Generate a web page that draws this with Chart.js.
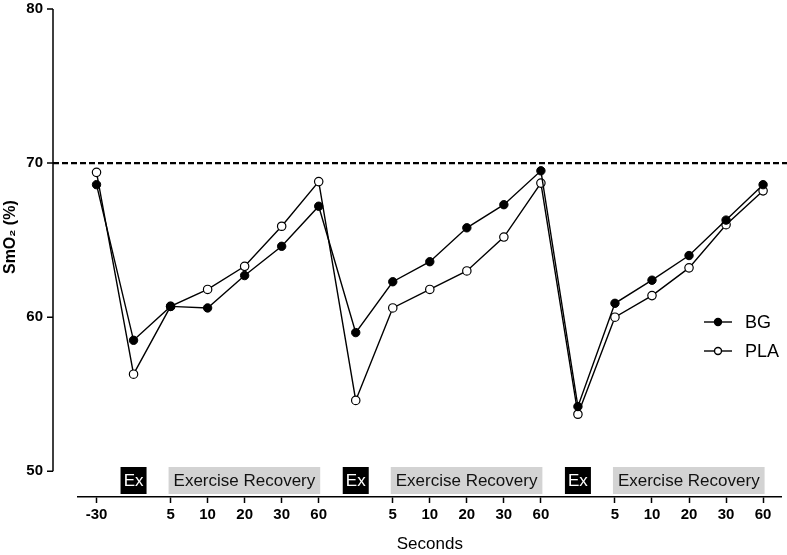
<!DOCTYPE html>
<html>
<head>
<meta charset="utf-8">
<script src="https://cdn.jsdelivr.net/npm/chart.js@4/dist/chart.umd.min.js"></script>
<style>
  html, body { margin: 0; padding: 0; background: #fff; }
  #wrap { width: 787px; height: 555px; position: relative; }
</style>
</head>
<body>
<div id="wrap"><canvas id="smo2Chart"></canvas></div>
<script>
// x categories: '' marks the exercise bouts (no tick mark there)
const timeLabels = ['-30', '', '5', '10', '20', '30', '60', '', '5', '10', '20', '30', '60', '', '5', '10', '20', '30', '60'];
const bgValues  = [68.6, 58.5, 60.7, 60.6, 62.7, 64.6, 67.2, 59.0, 62.3, 63.6, 65.8, 67.3, 69.5, 54.2, 60.9, 62.4, 64.0, 66.3, 68.6];
const plaValues = [69.4, 56.3, 60.7, 61.8, 63.3, 65.9, 68.8, 54.6, 60.6, 61.8, 63.0, 65.2, 68.7, 53.7, 60.0, 61.4, 63.2, 66.0, 68.2];
const yTickValues = [50, 60, 70, 80];
const refLine = 70;
// annotation boxes below the data
const exBouts = [1, 7, 13];
const recoveries = [[2, 6], [8, 12], [14, 18]];

const FONT = "'Liberation Sans', Arial, sans-serif";

// axis lines, reference line, Ex / recovery boxes, legend, y title
const decorations = {
    id: 'decorations',
    beforeDatasetsDraw(chart) {
        const { ctx, scales: { x, y }, chartArea } = chart;
        const axisX = chartArea.left - 25;
        ctx.save();
        // y axis line that stops at 50
        ctx.strokeStyle = '#000';
        ctx.lineWidth = 1.5;
        ctx.beginPath();
        ctx.moveTo(axisX, y.getPixelForValue(80));
        ctx.lineTo(axisX, y.getPixelForValue(50));
        yTickValues.forEach(v => {
            const py = y.getPixelForValue(v);
            ctx.moveTo(axisX - 6, py);
            ctx.lineTo(axisX, py);
        });
        ctx.stroke();

        // dashed line at 70
        ctx.setLineDash([6, 3]);
        ctx.lineWidth = 2.4;
        ctx.beginPath();
        const ry = y.getPixelForValue(refLine);
        ctx.moveTo(axisX, ry);
        ctx.lineTo(chart.width, ry);
        ctx.stroke();
        ctx.setLineDash([]);

        // boxes
        const top = chartArea.bottom - 30, h = 27;
        ctx.textAlign = 'center';
        ctx.textBaseline = 'middle';
        exBouts.forEach(i => {
            const cx = x.getPixelForValue(i);
            ctx.fillStyle = '#000';
            ctx.fillRect(cx - 13, top, 26, h);
            ctx.fillStyle = '#fff';
            ctx.font = '17px ' + FONT;
            ctx.fillText('Ex', cx, top + h / 2 + 1);
        });
        recoveries.forEach(([a, b]) => {
            const x0 = x.getPixelForValue(a) - 2;
            const x1 = x.getPixelForValue(b) + 1.5;
            ctx.fillStyle = '#d3d3d3';
            ctx.fillRect(x0, top, x1 - x0, h);
            ctx.fillStyle = '#111';
            ctx.font = '17px ' + FONT;
            ctx.fillText('Exercise Recovery', (x0 + x1) / 2, top + h / 2 + 1);
        });

        // y title
        ctx.save();
        ctx.translate(11, (y.getPixelForValue(80) + y.getPixelForValue(50)) / 2 - 3);
        ctx.rotate(-Math.PI / 2);
        ctx.fillStyle = '#000';
        ctx.font = 'bold 16px ' + FONT;
        ctx.fillText('SmO\u2082 (%)', 0, 0);
        ctx.restore();
        ctx.restore();
    },
    afterDatasetsDraw(chart) {
        const { ctx } = chart;
        ctx.save();
        chart.data.datasets.forEach((ds, i) => {
            const ly = 322 + i * 29;
            ctx.strokeStyle = '#000';
            ctx.lineWidth = 1.4;
            ctx.beginPath();
            ctx.moveTo(704, ly);
            ctx.lineTo(732, ly);
            ctx.stroke();
            ctx.beginPath();
            ctx.arc(718, ly, 3.5, 0, Math.PI * 2);
            ctx.fillStyle = ds.pointBackgroundColor;
            ctx.fill();
            ctx.stroke();
            ctx.fillStyle = '#000';
            ctx.font = '18px ' + FONT;
            ctx.textAlign = 'left';
            ctx.textBaseline = 'middle';
            ctx.fillText(ds.label, 745, ly + 1);
        });
        ctx.restore();
    }
};

const ctx = document.getElementById('smo2Chart').getContext('2d');
const smo2Chart = new Chart(ctx, {
    type: 'line',
    data: {
        labels: timeLabels,
        datasets: [
            {
                label: 'BG',
                data: bgValues,
                borderColor: '#000',
                borderWidth: 1.4,
                pointBackgroundColor: '#000',
                pointBorderColor: '#000',
                pointBorderWidth: 1,
                pointRadius: 4.2,
                tension: 0
            },
            {
                label: 'PLA',
                data: plaValues,
                borderColor: '#000',
                borderWidth: 1.4,
                pointBackgroundColor: '#fff',
                pointBorderColor: '#000',
                pointBorderWidth: 1.2,
                pointRadius: 4.2,
                tension: 0
            }
        ]
    },
    options: {
        responsive: true,
        maintainAspectRatio: false,
        animation: false,
        layout: { padding: { top: 9, right: 2, left: 0, bottom: 0 } },
        plugins: {
            legend: { display: false },
            tooltip: { enabled: false }
        },
        scales: {
            x: {
                type: 'category',
                offset: true,
                border: { display: true, color: '#000', width: 1.5 },
                grid: {
                    drawOnChartArea: false,
                    drawTicks: true,
                    tickLength: 6,
                    tickWidth: 1.5,
                    tickColor: c => (c.tick && c.tick.label === '') ? 'rgba(0,0,0,0)' : '#000'
                },
                ticks: {
                    color: '#000',
                    font: { family: FONT, size: 15, weight: 'bold' },
                    padding: 3,
                    autoSkip: false,
                    maxRotation: 0
                },
                title: {
                    display: true,
                    text: 'Seconds',
                    color: '#000',
                    font: { family: FONT, size: 17 },
                    padding: { top: 14, bottom: 0 }
                },
                afterFit: s => { s.height = 58; }
            },
            y: {
                min: 48.33,
                max: 80,
                border: { display: false },
                grid: { display: false, drawTicks: false },
                ticks: {
                    color: '#000',
                    font: { family: FONT, size: 15, weight: 'bold' },
                    padding: 35
                },
                afterBuildTicks: s => { s.ticks = yTickValues.map(v => ({ value: v })); },
                afterFit: s => {
                    s.width = 78;
                    s.paddingTop = 0;
                    s.paddingBottom = 0;
                }
            }
        }
    },
    plugins: [decorations]
});
</script>
</body>
</html>
